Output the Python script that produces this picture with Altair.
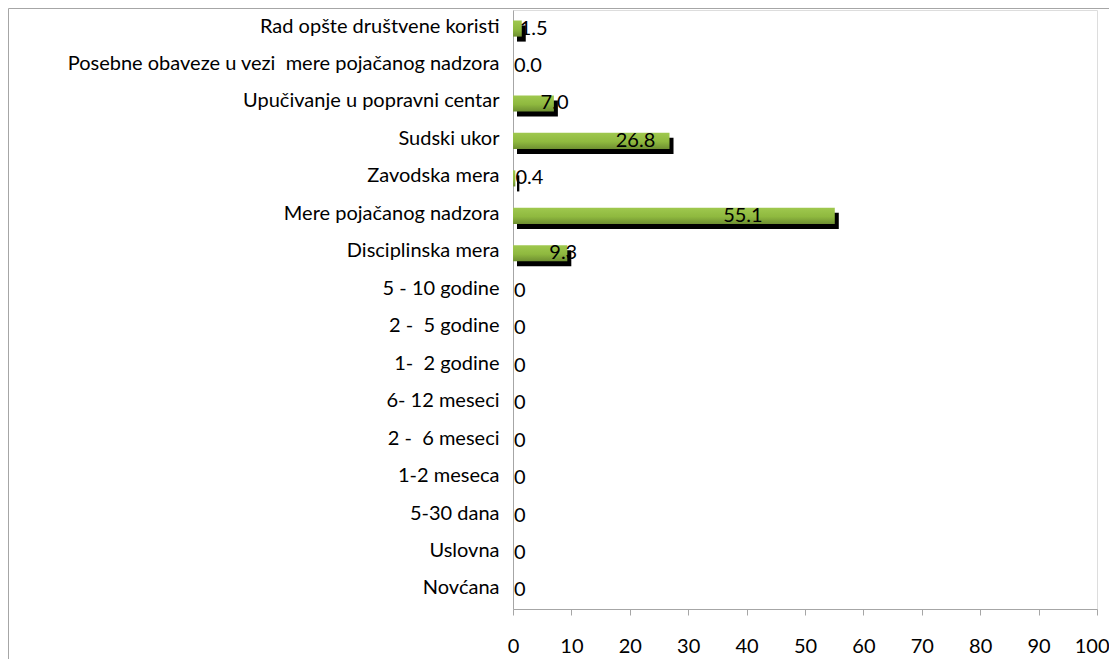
import altair as alt
import pandas as pd

categories = [
    "Rad opšte društvene koristi",
    "Posebne obaveze u vezi \u00a0mere pojačanog nadzora",
    "Upučivanje u popravni centar",
    "Sudski ukor",
    "Zavodska mera",
    "Mere pojačanog nadzora",
    "Disciplinska mera",
    "5 - 10 godine",
    "2 - \u00a05 godine",
    "1- \u00a02 godine",
    "6- 12 meseci",
    "2 - \u00a06 meseci",
    "1-2 meseca",
    "5-30 dana",
    "Uslovna",
    "Novćana",
]
values = [1.5, 0.0, 7.0, 26.8, 0.4, 55.1, 9.3, 0, 0, 0, 0, 0, 0, 0, 0, 0]
value_labels = ["1.5", "0.0", "7.0", "26.8", "0.4", "55.1", "9.3",
                "0", "0", "0", "0", "0", "0", "0", "0", "0"]
x_ticks = list(range(0, 101, 10))

df = pd.DataFrame({"cat": categories, "value": values, "label": value_labels})

FONT = "Lato"
FS = 20
AXIS_GRAY = "#a6a6a6"

x_scale = alt.Scale(domain=[0, 100], nice=False, zero=True)
y_enc = alt.Y("cat:N", sort=categories, title=None,
              scale=alt.Scale(paddingInner=0.57, paddingOuter=0.28),
              axis=alt.Axis(ticks=False, labelPadding=14, labelFontSize=FS,
                            labelFont=FONT, labelColor="#000000", labelOffset=-2,
                            domainColor=AXIS_GRAY, labelLimit=600))

base = alt.Chart(df)

shadow = base.mark_bar(color="#000000", xOffset=4, yOffset=5).encode(
    x=alt.X("value:Q", scale=x_scale, title=None,
            axis=alt.Axis(values=x_ticks, grid=False, tickSize=6,
                          tickColor=AXIS_GRAY, domainColor=AXIS_GRAY,
                          labelFontSize=FS, labelFont=FONT, labelColor="#000000",
                          labelPadding=21, labelFlush=False,
                          labelAlign=alt.expr("datum.value == 100 ? 'right' : 'center'"),
                          labelOffset=alt.expr("datum.value == 100 ? 12 : 0"))),
    y=y_enc,
)

green = base.mark_bar(
    color=alt.Gradient(
        gradient="linear", x1=0, y1=0, x2=0, y2=1,
        stops=[alt.GradientStop(color="#9fc84e", offset=0),
               alt.GradientStop(color="#8fb93f", offset=0.55),
               alt.GradientStop(color="#6e8f31", offset=1)],
    )
).encode(x=alt.X("value:Q", scale=x_scale), y=y_enc)

text = base.transform_calculate(pos="datum.value * 0.65").mark_text(
    align="left", baseline="middle", dx=1, dy=0, font=FONT, fontSize=FS, color="#000000"
).encode(x=alt.X("pos:Q", scale=x_scale), y=y_enc, text="label:N")

border_df = pd.DataFrame({"k": [0]})
border_left = alt.Chart(border_df).mark_rule(color=AXIS_GRAY, strokeWidth=1).encode(
    x=alt.value(-504.5), y=alt.value(-1.5), y2=alt.value(660))
border_top = alt.Chart(border_df).mark_rule(color=AXIS_GRAY, strokeWidth=1).encode(
    x=alt.value(-504.5), x2=alt.value(610), y=alt.value(-1.5))

chart = alt.layer(border_left, border_top, shadow, green, text).properties(
    width=584, height=599,
    autosize=alt.AutoSizeParams(type="none"),
    padding={"left": 505, "top": 2, "right": 12, "bottom": 50},
).configure_view(stroke=None).configure(background="#ffffff")

chart.save("out.html", embed_options={"renderer": "svg", "actions": False})
